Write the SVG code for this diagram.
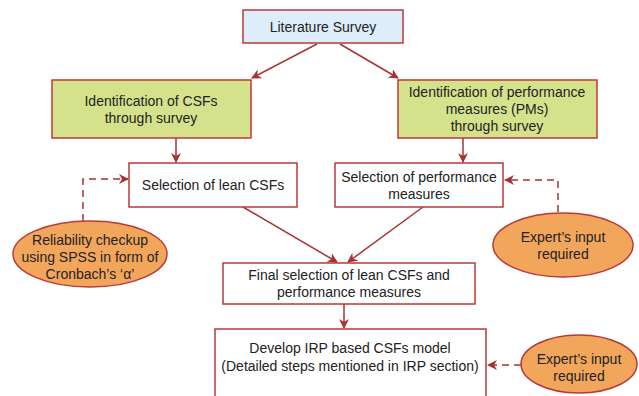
<svg xmlns="http://www.w3.org/2000/svg" width="639" height="396" viewBox="0 0 639 396">
<style>
.box{fill:#ffffff;stroke:#b8393a;stroke-width:1.5}
.blue{fill:#ddeefa;stroke:#b8393a;stroke-width:1.5}
.green{fill:#d5e28c;stroke:#c0393a;stroke-width:1.5}
.oval{fill:#f2a65c;stroke:#b8393a;stroke-width:1.5}
.t{font-family:"Liberation Sans",Arial,sans-serif;font-size:14px;fill:#222;text-anchor:middle;dominant-baseline:central}
.c{stroke:#a83232;stroke-width:1.5;fill:none}
.d{stroke:#a83232;stroke-width:1.5;fill:none;stroke-dasharray:7,5}
</style>
<defs>
<marker id="ah" viewBox="0 0 10 10" refX="9" refY="5" markerWidth="10" markerHeight="10" markerUnits="userSpaceOnUse" orient="auto">
<path d="M0,0 L10,5 L0,10 L3,5 z" fill="#a83232"/>
</marker>
</defs>
<rect width="639" height="396" fill="#ffffff"/>
<g id="connectors">
<line class="c" x1="317" y1="44" x2="252" y2="78" marker-end="url(#ah)"/>
<line class="c" x1="340" y1="44" x2="398" y2="78" marker-end="url(#ah)"/>
<line class="c" x1="176" y1="138" x2="176" y2="162" marker-end="url(#ah)"/>
<line class="c" x1="463" y1="138" x2="463" y2="162" marker-end="url(#ah)"/>
<polyline class="d" points="83,221 83,179 128,179" marker-end="url(#ah)"/>
<polyline class="d" points="558,212 558,180 505,180" marker-end="url(#ah)"/>
<line class="c" x1="243" y1="207" x2="337" y2="262" marker-end="url(#ah)"/>
<line class="c" x1="423" y1="207" x2="348" y2="262" marker-end="url(#ah)"/>
<line class="c" x1="344" y1="304" x2="344" y2="328" marker-end="url(#ah)"/>
<line class="d" x1="521" y1="365" x2="488" y2="365" marker-end="url(#ah)"/>
</g>
<g id="literature-survey">
<rect class="blue" x="243" y="10" width="160" height="33"/>
<text class="t" x="323" y="27">Literature Survey</text>
</g>
<g id="identification-csfs">
<rect class="green" x="52" y="80" width="199" height="58"/>
<text class="t" x="151" y="101">Identification of CSFs</text>
<text class="t" x="151" y="118">through survey</text>
</g>
<g id="identification-pms">
<rect class="green" x="398" y="80" width="199" height="58"/>
<text class="t" x="497" y="92">Identification of performance</text>
<text class="t" x="497" y="109">measures (PMs)</text>
<text class="t" x="497" y="126">through survey</text>
</g>
<g id="selection-lean-csfs">
<rect class="box" x="129" y="163" width="168" height="44"/>
<text class="t" x="213" y="185">Selection of lean CSFs</text>
</g>
<g id="selection-pms">
<rect class="box" x="335" y="163" width="168" height="44"/>
<text class="t" x="419" y="177">Selection of performance</text>
<text class="t" x="419" y="194">measures</text>
</g>
<g id="reliability">
<ellipse class="oval" cx="90" cy="254" rx="77" ry="33"/>
<text class="t" x="90" y="240">Reliability checkup</text>
<text class="t" x="90" y="257">using SPSS in form of</text>
<text class="t" x="90" y="274">Cronbach’s ‘α’</text>
</g>
<g id="expert-input-1">
<ellipse class="oval" cx="563" cy="245" rx="70" ry="32"/>
<text class="t" x="563" y="237">Expert’s input</text>
<text class="t" x="563" y="254">required</text>
</g>
<g id="final-selection">
<rect class="box" x="223" y="263" width="252" height="41"/>
<text class="t" x="349" y="275">Final selection of lean CSFs and</text>
<text class="t" x="349" y="292">performance measures</text>
</g>
<g id="develop-irp">
<rect class="box" x="215" y="329" width="271" height="80"/>
<text class="t" x="350" y="348">Develop IRP based CSFs model</text>
<text class="t" x="350" y="366">(Detailed steps mentioned in IRP section)</text>
</g>
<g id="expert-input-2">
<ellipse class="oval" cx="579" cy="364" rx="58" ry="29"/>
<text class="t" x="579" y="359">Expert’s input</text>
<text class="t" x="579" y="376">required</text>
</g>
</svg>
